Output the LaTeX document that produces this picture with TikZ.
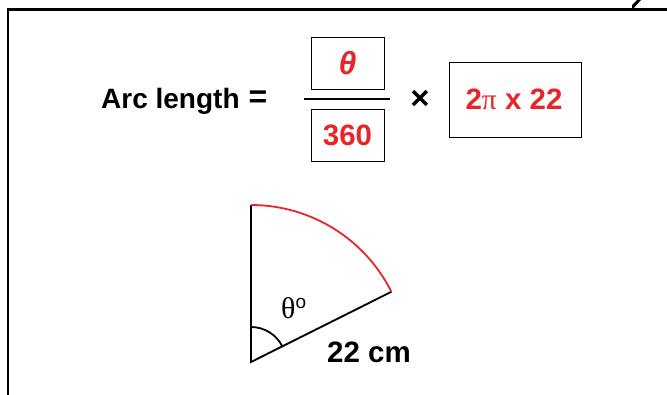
\documentclass[tikz,border=0pt]{standalone}
\usepackage{fontspec}
\usetikzlibrary{calc}
\setmainfont{Liberation Sans}
\newfontfamily\serifgr{Liberation Serif}
\definecolor{arcred}{RGB}{232,38,42}
\begin{document}
\begin{tikzpicture}[x=1pt,y=1pt,
  txt/.style={font=\fontsize{28}{32}\selectfont\bfseries, inner sep=0pt},
  bigtxt/.style={font=\fontsize{29.5}{33}\selectfont\bfseries, inner sep=0pt},
  redtxt/.style={bigtxt, text=arcred},
  valbox/.style={draw, line width=1pt, inner sep=0pt},
  frameline/.style={line width=2.6pt},
  sectorline/.style={line width=1.8pt}]
\useasboundingbox (0,-394) rectangle (667,0);
% outer frame
\draw[frameline] (8,-400) -- (8,-9.5) -- (680,-9.5);
\fill (632,-10) -- (632,-5) -- (637,0) -- (641,0) -- cycle;
% formula
\node[txt, anchor=base west] (lbl) at (101,-108) {Arc length};
\node[font=\fontsize{32}{34}\selectfont\bfseries, inner sep=0pt] (eq) at (258,-99) {=};
\node[valbox, minimum width=73pt, minimum height=52pt] (numbox) at (347.5,-63) {};
\node[redtxt, font=\fontsize{32}{34}\selectfont\bfseries\itshape] (num) at (numbox.center) {θ};
\node[valbox, minimum width=73pt, minimum height=52pt] (denbox) at (347.5,-135) {};
\node[redtxt] (den) at (denbox.center) {360};
\coordinate (fl) at (304,-99);
\coordinate (fr) at (390,-99);
\draw[line width=2.6pt] (fl) -- (fr);
\node[font=\fontsize{33}{34}\selectfont\bfseries, inner sep=0pt] (times) at (420,-100) {×};
\node[valbox, minimum width=132pt, minimum height=75pt] (circbox) at (515,-99.5) {};
\node[redtxt] (circ) at (514,-99) {2{\serifgr\mdseries π} x 22};
% sector
\coordinate (O) at (251,-362);
\coordinate (T) at (251,-205);
\coordinate (E) at ($(O)+(26.57:157)$);
\draw[sectorline] (T) -- (O) -- (E);
\draw[sectorline, arcred] (T) arc[start angle=90, end angle=26.57, radius=157];
\draw[sectorline] ($(O)+(0,35)$) arc[start angle=90, end angle=26.57, radius=35];
\node[inner sep=0pt, anchor=base west] (ang) at (281,-318) {\fontsize{30}{32}\selectfont\serifgr θ\raisebox{10pt}{\fontsize{19}{20}\selectfont\rmfamily o}};
\node[bigtxt, anchor=base west] (rad) at (327,-362) {22 cm};
\end{tikzpicture}
\end{document}
